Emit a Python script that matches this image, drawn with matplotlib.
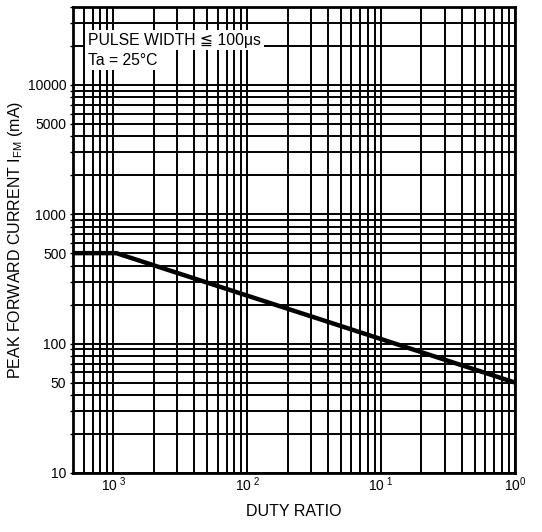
import matplotlib
matplotlib.use('Agg')
import matplotlib.pyplot as plt
from matplotlib.ticker import LogLocator, NullFormatter, FixedLocator, FixedFormatter

plt.rcParams['font.family'] = ['Liberation Sans', 'DejaVu Sans']
plt.rcParams['mathtext.fontset'] = 'custom'
plt.rcParams['mathtext.rm'] = 'Liberation Sans'
plt.rcParams['mathtext.it'] = 'Liberation Sans'

# 曲线数据 (占空比 vs 峰值正向电流)
duty = [5e-4, 1.05e-3, 1.0]
ifm = [500, 500, 50]

x_ticks = [1e-3, 1e-2, 1e-1, 1.0]
x_labels = [r'$10^{\ 3}$', r'$10^{\ 2}$', r'$10^{\ 1}$', r'$10^0$']
y_ticks = [10, 50, 100, 500, 1000, 5000, 10000]
y_labels = ['10', '50', '100', '500', '1000', '5000', '10000']

fig = plt.figure(figsize=(5.42, 5.32), dpi=100)
ax = fig.add_axes([0.135, 0.111, 0.815, 0.876])

ax.set_xscale('log')
ax.set_yscale('log')
ax.set_xlim(5e-4, 1.0)
ax.set_ylim(10, 40000)

# 网格
ax.xaxis.set_minor_locator(LogLocator(base=10, subs=range(2, 10), numticks=20))
ax.yaxis.set_minor_locator(LogLocator(base=10, subs=range(2, 10), numticks=20))
ax.xaxis.set_minor_formatter(NullFormatter())
ax.yaxis.set_minor_formatter(NullFormatter())
ax.grid(which='both', color='black', lw=1.4)

ax.xaxis.set_major_locator(FixedLocator(x_ticks))
ax.xaxis.set_major_formatter(FixedFormatter(x_labels))
ax.yaxis.set_major_locator(FixedLocator(y_ticks))
ax.yaxis.set_major_formatter(FixedFormatter(y_labels))
ax.tick_params(axis='x', which='both', length=0, pad=2, labelsize=10)
ax.tick_params(axis='y', which='both', length=2, width=1, pad=3, labelsize=10)

for s in ax.spines.values():
    s.set_linewidth(2)
    s.set_color('black')

ax.plot(duty, ifm, color='black', lw=3.2, solid_capstyle='butt', zorder=5)

ax.set_xlabel('DUTY RATIO', fontsize=11.5, labelpad=7)
ax.set_ylabel(r'PEAK FORWARD CURRENT I$_{\mathrm{FM}}$ (mA)', fontsize=11.5, labelpad=2)

ax.text(0.034, 0.929, 'PULSE WIDTH \u2266 100\u03bcs', transform=ax.transAxes,
        fontsize=11.3, va='center', ha='left', zorder=6,
        family=['Liberation Sans', 'DejaVu Sans'],
        bbox=dict(facecolor='white', edgecolor='none', pad=2))
ax.text(0.034, 0.886, 'Ta = 25\u00b0C', transform=ax.transAxes,
        fontsize=11.3, va='center', ha='left', zorder=6,
        bbox=dict(facecolor='white', edgecolor='none', pad=2))

fig.savefig('out.png', dpi=100)
